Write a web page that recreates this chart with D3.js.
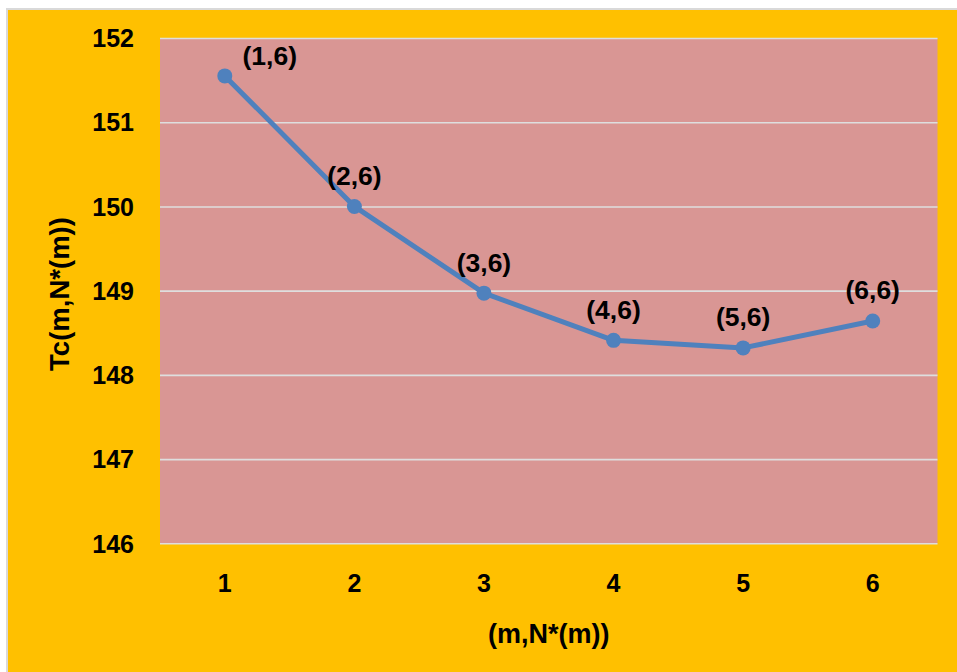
<!DOCTYPE html>
<html>
<head>
<meta charset="utf-8">
<script src="https://cdn.jsdelivr.net/npm/d3@7/dist/d3.min.js"></script>
<style>
  html, body { margin: 0; padding: 0; background: #ffffff; }
  svg { display: block; font-family: "Liberation Sans", Arial, sans-serif; font-weight: bold; }
</style>
</head>
<body>
<svg id="chart" width="957" height="672"></svg>
<script>
// Cost values Tc(m, N*(m)) for each m
const categories = ["1", "2", "3", "4", "5", "6"];
const costValues = [151.55, 150.0, 148.97, 148.41, 148.32, 148.64];
const pointLabels = ["(1,6)", "(2,6)", "(3,6)", "(4,6)", "(5,6)", "(6,6)"];
const yTicks = [146, 147, 148, 149, 150, 151, 152];
const xTitle = "(m,N*(m))";
const yTitle = "Tc(m,N*(m))";

const W = 957, H = 672;
const plot = { left: 160, right: 937.5, top: 38, bottom: 543.3 };

const svg = d3.select("#chart");

// chart area background with thin border
svg.append("rect")
  .attr("x", 7).attr("y", 9)
  .attr("width", W + 10).attr("height", H + 10)
  .attr("fill", "#FFC000")
  .attr("stroke", "#D9D9D9").attr("stroke-width", 2);

// plot area
svg.append("rect")
  .attr("x", plot.left).attr("y", plot.top)
  .attr("width", plot.right - plot.left).attr("height", plot.bottom - plot.top)
  .attr("fill", "#D99694");

const x = d3.scaleBand().domain(categories).range([plot.left, plot.right]).paddingInner(0).paddingOuter(0);
const y = d3.scaleLinear().domain([146, 152]).range([plot.bottom, plot.top]);

// horizontal gridlines
svg.append("g")
  .attr("transform", `translate(${plot.left},0)`)
  .call(d3.axisLeft(y).tickValues(yTicks).tickSize(-(plot.right - plot.left)).tickFormat(""))
  .call(g => g.select(".domain").remove())
  .call(g => g.selectAll(".tick line").attr("stroke", "#DEDEDE").attr("stroke-width", 1.6));

// y tick labels
svg.append("g")
  .attr("transform", `translate(${plot.left},0)`)
  .call(d3.axisLeft(y).tickValues(yTicks).tickSize(0).tickPadding(26).tickFormat(d3.format("d")))
  .call(g => g.select(".domain").remove())
  .call(g => g.selectAll(".tick text")
    .attr("fill", "#000").attr("font-size", 25).attr("font-weight", "bold")
    .attr("font-family", "Liberation Sans, Arial, sans-serif")
    .attr("dy", "0.35em"));

// x tick labels
svg.append("g")
  .attr("transform", `translate(0,${plot.bottom})`)
  .call(d3.axisBottom(x).tickSize(0).tickPadding(0))
  .call(g => g.select(".domain").remove())
  .call(g => g.selectAll(".tick text")
    .attr("fill", "#000").attr("font-size", 25).attr("font-weight", "bold")
    .attr("font-family", "Liberation Sans, Arial, sans-serif")
    .attr("y", 48.5).attr("dy", 0));

const cx = (d, i) => x(categories[i]) + x.bandwidth() / 2;
const cy = d => y(d);

// series line
const line = d3.line().x((d, i) => cx(d, i)).y(cy);
svg.append("path")
  .datum(costValues)
  .attr("d", line)
  .attr("fill", "none")
  .attr("stroke", "#4F81BD")
  .attr("stroke-width", 5)
  .attr("stroke-linejoin", "round");

// markers
svg.append("g").selectAll("circle")
  .data(costValues)
  .join("circle")
  .attr("cx", cx).attr("cy", cy)
  .attr("r", 7.5)
  .attr("fill", "#4F81BD");

// data labels above each point; shifted right when they would leave the plot top
svg.append("g").selectAll("text")
  .data(costValues)
  .join("text")
  .each(function(d, i) {
    let px = cx(d, i), py = cy(d) - 21.5;
    if (py - 20 < plot.top) { px += 45; py = cy(d) - 11; }
    d3.select(this).attr("x", px).attr("y", py);
  })
  .attr("text-anchor", "middle")
  .attr("font-size", 26.5)
  .attr("fill", "#000")
  .text((d, i) => pointLabels[i]);

// axis titles
svg.append("text")
  .attr("x", (plot.left + plot.right) / 2)
  .attr("y", 643)
  .attr("text-anchor", "middle")
  .attr("font-size", 27)
  .attr("fill", "#000")
  .text(xTitle);

svg.append("text")
  .attr("transform", `translate(69,294) rotate(-90)`)
  .attr("text-anchor", "middle")
  .attr("font-size", 27.5)
  .attr("fill", "#000")
  .text(yTitle);
</script>
</body>
</html>
